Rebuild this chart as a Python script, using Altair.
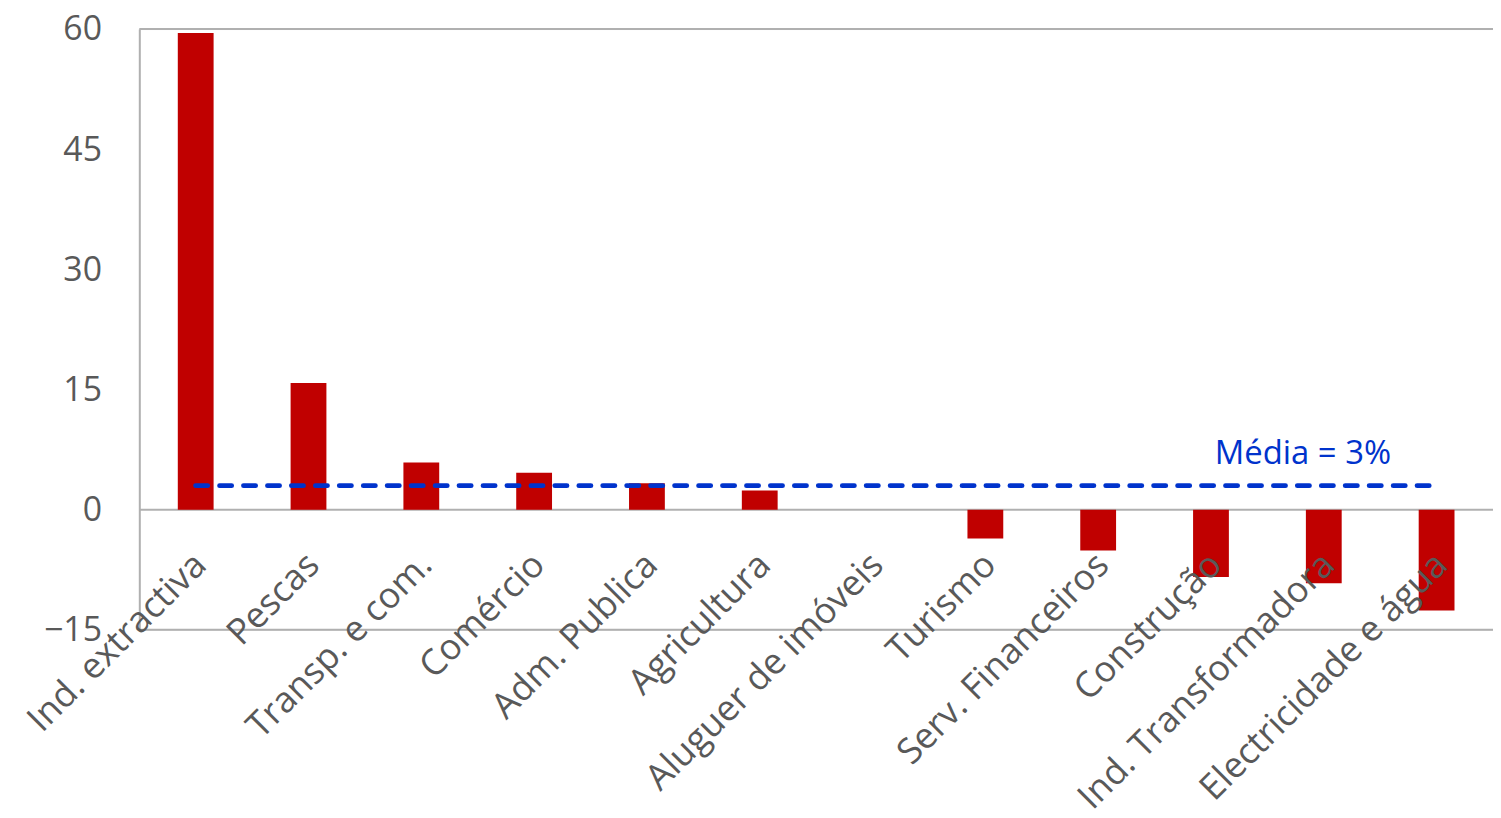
import altair as alt
import pandas as pd

categories = ["Ind. extractiva", "Pescas", "Transp. e com.", "Comércio", "Adm. Publica",
              "Agricultura", "Aluguer de imóveis", "Turismo", "Serv. Financeiros",
              "Construção", "Ind. Transformadora", "Electricidade e água"]
values = [59.5, 15.8, 5.9, 4.6, 3.3, 2.4, 0.0, -3.6, -5.1, -8.4, -9.2, -12.6]
media = 3
media_label = "Média = 3%"
y_ticks = [-15, 0, 15, 30, 45, 60]
grid_lines = [60, 0, -15]

FONT = "Open Sans"
GRAY = "#595959"

df = pd.DataFrame({"cat": categories, "val": values})
mean_df = pd.DataFrame({"x1": [categories[0]], "x2": [categories[-1]], "y": [media], "label": [media_label]})
grid_df = pd.DataFrame({"g": grid_lines})

xscale = alt.Scale(domain=categories, paddingInner=0, paddingOuter=0)
yscale = alt.Scale(domain=[-15, 60], nice=False, zero=False)

yaxis = alt.Axis(values=y_ticks, grid=False, ticks=False, title=None,
                 labelFont=FONT, labelFontSize=34, labelColor=GRAY, labelOffset=1,
                 labelPadding=38, domainColor="#B0B0B0", domainWidth=2)

grid = alt.Chart(grid_df).mark_rule(color="#B0B0B0", strokeWidth=2).encode(
    y=alt.Y("g:Q", scale=yscale, axis=yaxis)
)

base = alt.Chart(df)

bars = base.mark_bar(size=36, color="#C00000").encode(
    x=alt.X("cat:N", scale=xscale, sort=categories, axis=None),
    y=alt.Y("val:Q", scale=yscale, axis=yaxis),
)

labels = base.mark_text(angle=315, align="right", baseline="middle", font=FONT,
                        fontSize=36, color=GRAY, xOffset=5, yOffset=50).encode(
    x=alt.X("cat:N", scale=xscale, sort=categories, axis=None),
    y=alt.Y("zero:Q", scale=yscale, axis=yaxis),
    text="cat:N",
).transform_calculate(zero="0")

mean_line = alt.Chart(mean_df).mark_rule(color="#0033CC", strokeWidth=5, strokeDash=[12, 12.08],
                                         strokeCap="round").encode(
    x=alt.X("x1:N", scale=xscale, sort=categories, axis=None),
    x2="x2:N",
    y=alt.Y("y:Q", scale=yscale, axis=yaxis),
)

mean_text = alt.Chart(mean_df).mark_text(font=FONT, fontSize=33, color="#0033CC",
                                         align="center", baseline="alphabetic",
                                         xOffset=-21, yOffset=-22).encode(
    x=alt.X("lx:N", scale=xscale, sort=categories, axis=None),
    y=alt.Y("y:Q", scale=yscale, axis=yaxis),
    text="label:N",
).transform_calculate(lx="'Ind. Transformadora'")

chart = alt.layer(grid, bars, labels, mean_line, mean_text).properties(
    width=1361, height=604,
    autosize=alt.AutoSizeParams(type="none"),
    padding={"left": 132, "top": 19, "right": 0, "bottom": 179},
).configure_view(stroke=None).configure(background="white")

chart.save("out.html", embed_options={"renderer": "svg", "actions": False})
